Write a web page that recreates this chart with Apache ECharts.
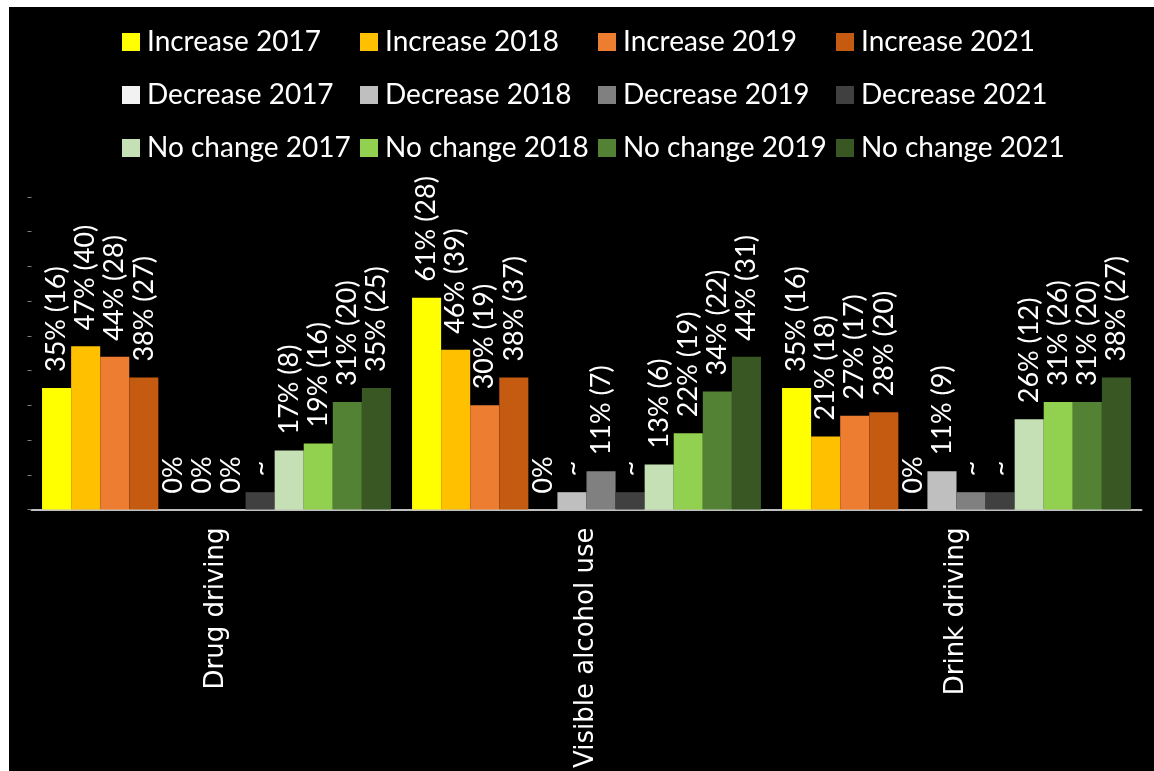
<!DOCTYPE html>
<html>
<head>
<meta charset="utf-8">
<script src="https://cdn.jsdelivr.net/npm/echarts@6/dist/echarts.min.js"></script>
<style>
html, body { margin: 0; padding: 0; background: #ffffff; width: 1154px; height: 771px; overflow: hidden; }
#chart { position: absolute; left: 9px; top: 7px; width: 1145px; height: 764px; }
</style>
</head>
<body>
<div id="chart"></div>
<script>
const categories = ['Drug driving', 'Visible alcohol use', 'Drink driving'];

const seriesNames = [
  'Increase 2017', 'Increase 2018', 'Increase 2019', 'Increase 2021',
  'Decrease 2017', 'Decrease 2018', 'Decrease 2019', 'Decrease 2021',
  'No change 2017', 'No change 2018', 'No change 2019', 'No change 2021'
];

// values in % ("~" = suppressed small value, estimated bar height)
const increase2017 = [35, 61, 35];
const increase2018 = [47, 46, 21];
const increase2019 = [44, 30, 27];
const increase2021 = [38, 38, 28];
const decrease2017 = [0, 0, 0];
const decrease2018 = [0, 5, 11];
const decrease2019 = [0, 11, 5];
const decrease2021 = [5, 5, 5];
const noChange2017 = [17, 13, 26];
const noChange2018 = [19, 22, 31];
const noChange2019 = [31, 34, 31];
const noChange2021 = [35, 44, 38];

// label texts
const increase2017Labels = ['35% (16)', '61% (28)', '35% (16)'];
const increase2018Labels = ['47% (40)', '46% (39)', '21% (18)'];
const increase2019Labels = ['44% (28)', '30% (19)', '27% (17)'];
const increase2021Labels = ['38% (27)', '38% (37)', '28% (20)'];
const decrease2017Labels = ['0%', '0%', '0%'];
const decrease2018Labels = ['0%', '~', '11% (9)'];
const decrease2019Labels = ['0%', '11% (7)', '~'];
const decrease2021Labels = ['~', '~', '~'];
const noChange2017Labels = ['17% (8)', '13% (6)', '26% (12)'];
const noChange2018Labels = ['19% (16)', '22% (19)', '31% (26)'];
const noChange2019Labels = ['31% (20)', '34% (22)', '31% (20)'];
const noChange2021Labels = ['35% (25)', '44% (31)', '38% (27)'];

const yTicks = { min: 0, max: 90, interval: 10 };

const seriesValues = [
  increase2017, increase2018, increase2019, increase2021,
  decrease2017, decrease2018, decrease2019, decrease2021,
  noChange2017, noChange2018, noChange2019, noChange2021
];
const seriesLabels = [
  increase2017Labels, increase2018Labels, increase2019Labels, increase2021Labels,
  decrease2017Labels, decrease2018Labels, decrease2019Labels, decrease2021Labels,
  noChange2017Labels, noChange2018Labels, noChange2019Labels, noChange2021Labels
];
const colors = [
  '#FFFF00', '#FFC000', '#ED7D31', '#C55A11',
  '#F2F2F2', '#BFBFBF', '#808080', '#404040',
  '#C5E0B4', '#92D050', '#548235', '#385723'
];

const chart = echarts.init(document.getElementById('chart'), null, { renderer: 'canvas' });

const legends = seriesNames.map((name, i) => {
  const col = i % 4, row = Math.floor(i / 4);
  return {
    data: [name],
    left: 108 + col * 238,
    top: 15 + row * 53,
    padding: 5,
    icon: 'rect',
    itemWidth: 18,
    itemHeight: 18,
    selectedMode: false,
    textStyle: { color: '#ffffff', fontSize: 28, fontFamily: 'Lato', lineHeight: 30, padding: [0, 0, 0, 2] }
  };
});

const series = seriesNames.map((name, i) => ({
  name: name,
  type: 'bar',
  data: seriesValues[i],
  barGap: '0%',
  barCategoryGap: '5.7%',
  itemStyle: { color: colors[i] },
  label: {
    show: true,
    position: 'top',
    rotate: 90,
    align: 'left',
    verticalAlign: 'middle',
    distance: 16,
    color: '#ffffff',
    fontFamily: 'Lato',
    fontSize: 27,
    formatter: (p) => seriesLabels[i][p.dataIndex]
  },
  emphasis: { disabled: true }
}));

chart.setOption({
  backgroundColor: '#000000',
  animation: false,
  color: colors,
  legend: legends,
  grid: { left: 22.5, width: 1110, top: 190, height: 314, containLabel: false },
  xAxis: {
    type: 'category',
    data: categories,
    axisLine: { show: true, lineStyle: { color: '#BFBFBF', width: 2 } },
    axisTick: { show: false },
    axisLabel: {
      color: '#ffffff',
      fontFamily: 'DejaVu Sans',
      fontSize: 26,
      rotate: 90,
      margin: 18,
      padding: [0, 0, 10, 0]
    }
  },
  yAxis: {
    type: 'value',
    min: yTicks.min,
    max: yTicks.max,
    interval: yTicks.interval,
    axisLine: { show: false },
    axisTick: { show: true, length: 4, lineStyle: { color: '#7F7F7F' } },
    axisLabel: { show: false },
    splitLine: { show: false }
  },
  series: series
});
</script>
</body>
</html>
